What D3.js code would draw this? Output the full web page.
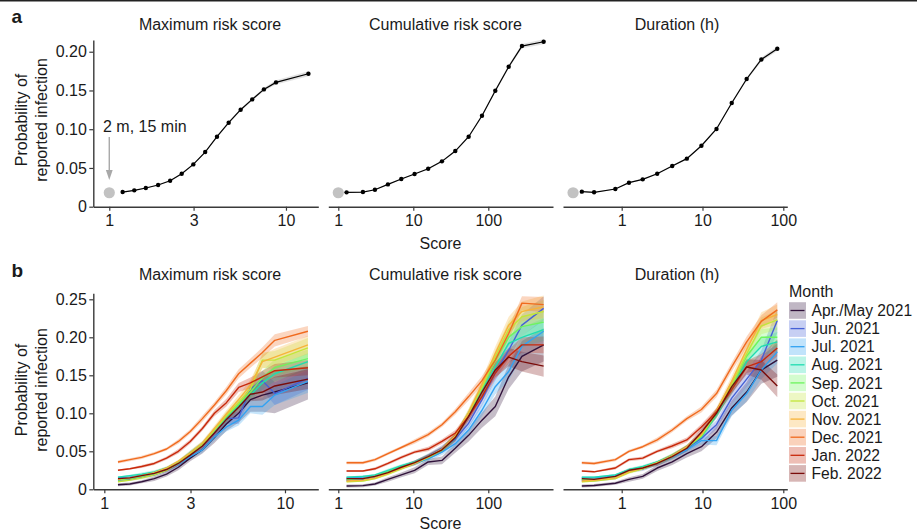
<!DOCTYPE html>
<html>
<head>
<meta charset="utf-8">
<script src="https://cdn.jsdelivr.net/npm/d3@7"></script>
<style>
  html, body { margin: 0; padding: 0; background: #fff; }
  svg { display: block; font-family: "Liberation Sans", Arial, Helvetica, sans-serif; }
</style>
</head>
<body>
<svg id="chart" width="917" height="532"></svg>
<script>
// ---------------- data ----------------
const panelTitles = ["Maximum risk score", "Cumulative risk score", "Duration (h)"];
const xTickValues = [[1, 3, 10], [1, 10, 100], [1, 10, 100]];
const yTicksTop = [0, 0.05, 0.10, 0.15, 0.20];
const yTickLabelsTop = ["0", "0.05", "0.10", "0.15", "0.20"];
const yTicksBottom = [0, 0.05, 0.10, 0.15, 0.20, 0.25];
const yTickLabelsBottom = ["0", "0.05", "0.10", "0.15", "0.20", "0.25"];

// bin centres (score or hours)
const maxX = [1.19, 1.385, 1.61, 1.89, 2.21, 2.57, 2.99, 3.49, 4.07, 4.74, 5.54, 6.44, 7.5, 8.78, 13.4];
const cumX = [1.29, 2.13, 3.08, 4.59, 6.92, 10.4, 15.8, 24.1, 36.3, 54.7, 82.4, 124, 187, 281, 547];
const durX = [0.321, 0.455, 0.834, 1.23, 1.82, 2.75, 4.22, 6.4, 9.7, 14.9, 23, 35.2, 53.5, 84.3];

// panel a: all months pooled
const maxP = [0.0189, 0.0211, 0.0241, 0.028, 0.0335, 0.0426, 0.0546, 0.0705, 0.0903, 0.1084, 0.1252, 0.1385, 0.1514, 0.1604, 0.1716];
const maxCI = [0.0005, 0.0005, 0.0005, 0.0006, 0.0007, 0.0008, 0.0009, 0.001, 0.0012, 0.0014, 0.0016, 0.0018, 0.0022, 0.0028, 0.0032];
const cumP = [0.0185, 0.0189, 0.0219, 0.0288, 0.0357, 0.0422, 0.049, 0.0585, 0.0718, 0.0903, 0.1174, 0.1497, 0.1806, 0.2073, 0.2129];
const cumCI = [0.0005, 0.0005, 0.0005, 0.0006, 0.0007, 0.0008, 0.0009, 0.001, 0.0012, 0.0014, 0.0017, 0.002, 0.0024, 0.0028, 0.0032];
const durP = [0.0194, 0.0186, 0.0228, 0.031, 0.0353, 0.0426, 0.0525, 0.062, 0.0787, 0.1003, 0.1338, 0.1648, 0.190, 0.2039];
const durCI = [0.0005, 0.0005, 0.0005, 0.0006, 0.0007, 0.0008, 0.0009, 0.001, 0.0012, 0.0014, 0.0017, 0.002, 0.0025, 0.003];

// reference exposure: 2 m, 15 min
const refScore = 1, refHours = 0.25, refP = 0.018;

// panel b: by month
const months = ["Apr./May 2021", "Jun. 2021", "Jul. 2021", "Aug. 2021", "Sep. 2021",
                "Oct. 2021", "Nov. 2021", "Dec. 2021", "Jan. 2022", "Feb. 2022"];
const monthColors = ["#30123b", "#4661d6", "#31a2f2", "#1fdcb0", "#6cf55e",
                     "#c2e63a", "#f7b33a", "#f06a1e", "#c8290b", "#7a0c0a"];

const maxMonthP = [
  [.006, .007, .010, .014, .020, .029, .041, .052, .068, .086, .100, .118, .124, .128, .140],
  [.012, .013, .016, .019, .025, .033, .045, .057, .074, .093, .094, .132, .143, .126, .146],
  [.015, .016, .018, .021, .026, .033, .043, .052, .069, .082, .091, .109, .109, .124, .142],
  [.016, .018, .020, .023, .028, .036, .048, .060, .077, .093, .110, .124, .140, .152, .168],
  [.012, .014, .017, .021, .027, .036, .047, .060, .078, .096, .112, .128, .147, .160, .172],
  [.010, .012, .015, .019, .025, .034, .046, .058, .078, .097, .114, .132, .170, .170, .186],
  [.013, .015, .018, .022, .028, .037, .048, .061, .080, .099, .118, .137, .168, .174, .190],
  [.036, .039, .042, .047, .053, .063, .076, .093, .111, .130, .152, .166, .180, .196, .208],
  [.025, .027, .030, .034, .041, .050, .063, .080, .100, .114, .134, .140, .148, .156, .160],
  [.014, .015, .018, .021, .026, .034, .045, .057, .074, .092, .108, .125, .128, .136, .145]
];
const maxMonthCI = [
  [.002, .002, .002, .003, .003, .004, .004, .005, .007, .009, .012, .016, .022, .028, .022],
  [.002, .002, .002, .002, .003, .003, .004, .004, .005, .007, .008, .010, .013, .015, .015],
  [.002, .002, .002, .002, .002, .003, .003, .004, .005, .006, .007, .009, .011, .013, .015],
  [.001, .001, .002, .002, .002, .002, .003, .003, .004, .005, .006, .007, .009, .010, .011],
  [.001, .001, .002, .002, .002, .002, .003, .003, .004, .005, .006, .007, .009, .011, .012],
  [.001, .001, .002, .002, .002, .002, .003, .003, .004, .005, .006, .008, .010, .012, .013],
  [.001, .001, .002, .002, .002, .002, .003, .003, .004, .005, .006, .007, .009, .011, .012],
  [.002, .002, .002, .002, .002, .003, .003, .004, .004, .005, .006, .006, .007, .008, .007],
  [.001, .001, .002, .002, .002, .003, .003, .003, .004, .005, .006, .007, .008, .009, .010],
  [.002, .002, .002, .002, .003, .003, .004, .004, .005, .006, .007, .009, .011, .012, .013]
];

const cumMonthP = [
  [.0044, .0048, .007, .013, .019, .025, .036, .038, .054, .071, .091, .109, .148, .175, .190],
  [.012, .013, .016, .022, .029, .035, .044, .054, .066, .087, .118, .153, .183, .216, .238],
  [.015, .016, .017, .023, .029, .034, .040, .049, .060, .078, .104, .135, .155, .188, .208],
  [.016, .017, .019, .025, .031, .036, .043, .052, .068, .098, .130, .161, .192, .200, .210],
  [.013, .014, .017, .023, .029, .035, .042, .052, .069, .100, .133, .170, .200, .214, .220],
  [.010, .011, .014, .020, .027, .034, .042, .052, .069, .100, .134, .174, .210, .227, .234],
  [.011, .012, .015, .021, .028, .034, .043, .053, .070, .101, .138, .179, .216, .234, .240],
  [.035, .035, .039, .047, .055, .063, .072, .085, .102, .122, .143, .170, .205, .245, .243],
  [.024, .024, .027, .034, .042, .049, .053, .063, .074, .096, .122, .153, .175, .190, .190],
  [.014, .014, .017, .022, .029, .035, .043, .052, .068, .096, .128, .157, .174, .168, .162]
];
const cumMonthCI = [
  [.002, .002, .002, .003, .003, .004, .004, .005, .006, .008, .010, .013, .016, .020, .022],
  [.002, .002, .002, .002, .003, .003, .003, .004, .005, .006, .008, .010, .012, .014, .016],
  [.002, .002, .002, .002, .002, .003, .003, .004, .005, .006, .008, .010, .012, .014, .016],
  [.001, .001, .001, .002, .002, .002, .003, .003, .004, .005, .007, .009, .011, .013, .015],
  [.001, .001, .001, .002, .002, .002, .003, .003, .004, .005, .007, .009, .011, .013, .015],
  [.001, .001, .001, .002, .002, .002, .003, .003, .004, .005, .007, .009, .011, .013, .015],
  [.001, .001, .002, .002, .002, .002, .003, .003, .004, .005, .007, .009, .011, .013, .015],
  [.002, .002, .002, .002, .002, .003, .003, .003, .004, .005, .006, .007, .008, .009, .010],
  [.001, .001, .002, .002, .002, .002, .003, .003, .004, .005, .006, .008, .009, .010, .011],
  [.002, .002, .002, .002, .002, .003, .003, .004, .005, .006, .008, .010, .012, .013, .014]
];

const durMonthP = [
  [.0044, .005, .008, .013, .017, .028, .036, .047, .056, .075, .107, .128, .157, .170],
  [.012, .012, .015, .024, .027, .034, .043, .054, .067, .085, .120, .145, .170, .222],
  [.015, .015, .018, .025, .028, .034, .042, .052, .064, .064, .104, .126, .157, .181],
  [.016, .016, .019, .026, .030, .036, .044, .055, .069, .098, .132, .168, .188, .194],
  [.013, .013, .016, .024, .028, .035, .044, .055, .070, .100, .135, .175, .200, .200],
  [.010, .011, .014, .022, .027, .034, .043, .055, .071, .101, .138, .178, .215, .223],
  [.011, .012, .015, .023, .028, .035, .044, .056, .072, .103, .142, .184, .222, .230],
  [.035, .034, .039, .050, .056, .065, .078, .093, .105, .126, .161, .194, .221, .236],
  [.024, .023, .028, .039, .041, .050, .057, .065, .082, .102, .131, .161, .168, .186],
  [.014, .013, .017, .025, .028, .034, .043, .054, .075, .100, .135, .161, .157, .136]
];
const durMonthCI = [
  [.002, .002, .002, .003, .003, .004, .004, .005, .006, .008, .010, .013, .018, .022],
  [.002, .002, .002, .002, .003, .003, .003, .004, .005, .006, .008, .010, .013, .016],
  [.002, .002, .002, .002, .002, .003, .003, .004, .005, .006, .008, .010, .012, .015],
  [.001, .001, .001, .002, .002, .002, .003, .003, .004, .005, .007, .009, .011, .013],
  [.001, .001, .001, .002, .002, .002, .003, .003, .004, .005, .007, .009, .011, .013],
  [.001, .001, .001, .002, .002, .002, .003, .003, .004, .005, .007, .009, .011, .013],
  [.001, .001, .001, .002, .002, .002, .003, .003, .004, .005, .007, .009, .011, .013],
  [.002, .002, .002, .002, .002, .003, .003, .003, .004, .005, .006, .007, .008, .010],
  [.001, .001, .002, .002, .002, .002, .003, .003, .004, .005, .006, .008, .010, .011],
  [.002, .002, .002, .002, .002, .003, .003, .004, .005, .006, .008, .010, .013, .015]
];

// ---------------- layout ----------------
const W = 917, H = 532;
const FS = 16;
const ink = "#1a1a1a";
const axisInk = "#3a3a3a";
const svg = d3.select("#chart");

// rule along the top edge
svg.append("rect").attr("x", 0).attr("y", 0).attr("width", W).attr("height", 1.5).attr("fill", "#222");

const colRange = [[93.3, 318.3], [328.3, 553], [563, 787.3]];
const topDomains = [[0.812, 15.24], [0.736, 729], [0.1877, 112.1]];
const botDomains = [[0.869, 15.29], [0.736, 729], [0.1877, 112.1]];

const yTop = d3.scaleLinear().domain([0, 0.215]).range([206.7, 40.1]);
const yBot = d3.scaleLinear().domain([0, 0.258]).range([489.3, 489.3 - 0.258 * 760]);

function styleAxis(g) {
  g.selectAll("path.domain").attr("stroke", axisInk).attr("stroke-width", 1.4);
  g.selectAll(".tick line").attr("stroke", axisInk).attr("stroke-width", 1.2);
  g.selectAll(".tick text").attr("fill", ink).style("font-size", FS + "px")
    .style("font-family", '"Liberation Sans", Arial, Helvetica, sans-serif');
}

function drawXAxis(x, yPos, ticks) {
  const g = svg.append("g").attr("transform", `translate(0,${yPos})`)
    .call(d3.axisBottom(x).tickValues(ticks).tickFormat(d3.format("d"))
      .tickSize(4).tickSizeOuter(0).tickPadding(4));
  styleAxis(g);
}

function drawYAxis(y, xPos, ticks, labels) {
  const g = svg.append("g").attr("transform", `translate(${xPos},0)`)
    .call(d3.axisLeft(y).tickValues(ticks).tickFormat((d, i) => labels[i])
      .tickSize(4).tickSizeOuter(0).tickPadding(2.5));
  styleAxis(g);
}

function yLabel(cx, cy) {
  const t = svg.append("text").attr("transform", `translate(${cx},${cy}) rotate(-90)`)
    .attr("text-anchor", "middle").attr("fill", ink).style("font-size", FS + "px");
  t.append("tspan").attr("x", 0).attr("y", 0).text("Probability of");
  t.append("tspan").attr("x", 0).attr("dy", 20).text("reported infection");
}

function text(x, y, s, opts = {}) {
  return svg.append("text").attr("x", x).attr("y", y).text(s)
    .attr("fill", ink).attr("text-anchor", opts.anchor || "start")
    .style("font-size", (opts.size || FS) + "px")
    .style("font-weight", opts.weight || "normal");
}

// panel letters
text(11.5, 23, "a", { weight: "bold", size: 19 });
text(11.5, 277, "b", { weight: "bold", size: 19 });

const titleCx = [210, 445.5, 677];
panelTitles.forEach((t, i) => {
  text(titleCx[i], 30, t, { anchor: "middle" });
  text(titleCx[i], 280, t, { anchor: "middle" });
});

text(440.5, 248.5, "Score", { anchor: "middle" });
text(440.5, 529, "Score", { anchor: "middle" });

yLabel(27, 120);
yLabel(27, 390);

// ---------------- panel a ----------------
const topXs = [maxX, cumX, durX];
const topPs = [maxP, cumP, durP];
const topCIs = [maxCI, cumCI, durCI];
const refX = [refScore, refScore, refHours];

topXs.forEach((xs, i) => {
  const x = d3.scaleLog().domain(topDomains[i]).range(colRange[i]);
  const rows = xs.map((v, k) => ({ x: v, p: topPs[i][k], ci: topCIs[i][k] }));

  svg.append("path").datum(rows)
    .attr("d", d3.area().x(d => x(d.x)).y0(d => yTop(d.p - d.ci)).y1(d => yTop(d.p + d.ci)))
    .attr("fill", "#bdbdbd").attr("fill-opacity", 0.45);

  svg.append("path").datum(rows)
    .attr("d", d3.line().x(d => x(d.x)).y(d => yTop(d.p)))
    .attr("fill", "none").attr("stroke", "#000").attr("stroke-width", 1.2);

  svg.append("g").selectAll("circle").data(rows).join("circle")
    .attr("cx", d => x(d.x)).attr("cy", d => yTop(d.p)).attr("r", 2.2).attr("fill", "#000");

  svg.append("circle").attr("cx", x(refX[i])).attr("cy", yTop(refP)).attr("r", 5.6).attr("fill", "#c2c2c2");

  drawXAxis(x, 206.7, xTickValues[i]);

  if (i === 0) {
    drawYAxis(yTop, colRange[0][0], yTicksTop, yTickLabelsTop);
    // annotation arrow pointing at the reference exposure
    const ax = x(refScore);
    text(103, 131.5, "2 m, 15 min");
    svg.append("line").attr("x1", ax).attr("x2", ax).attr("y1", 137).attr("y2", 172)
      .attr("stroke", "#a8a8a8").attr("stroke-width", 1.4);
    svg.append("path").attr("d", `M${ax - 3.4},170 L${ax + 3.4},170 L${ax},180 Z`).attr("fill", "#a8a8a8");
  }
});

// ---------------- panel b ----------------
const botXs = [maxX, cumX, durX];
const botPs = [maxMonthP, cumMonthP, durMonthP];
const botCIs = [maxMonthCI, cumMonthCI, durMonthCI];

botXs.forEach((xs, i) => {
  const x = d3.scaleLog().domain(botDomains[i]).range(colRange[i]);
  const gp = svg.append("g");
  months.forEach((m, j) => {
    const rows = xs.map((v, k) => ({ x: v, p: botPs[i][j][k], ci: botCIs[i][j][k] }));
    gp.append("path").datum(rows)
      .attr("d", d3.area().x(d => x(d.x)).y0(d => yBot(Math.max(0, d.p - d.ci))).y1(d => yBot(d.p + d.ci)))
      .attr("fill", monthColors[j]).attr("fill-opacity", 0.28);
  });
  months.forEach((m, j) => {
    const rows = xs.map((v, k) => ({ x: v, p: botPs[i][j][k] }));
    gp.append("path").datum(rows)
      .attr("d", d3.line().x(d => x(d.x)).y(d => yBot(d.p)))
      .attr("fill", "none").attr("stroke", monthColors[j]).attr("stroke-width", 1.4)
      .attr("stroke-linejoin", "round");
  });
  drawXAxis(x, 489.3, xTickValues[i]);
  if (i === 0) drawYAxis(yBot, colRange[0][0], yTicksBottom, yTickLabelsBottom);
});

// ---------------- legend ----------------
text(789, 297, "Month");
const lg = svg.append("g");
months.forEach((m, j) => {
  const yc = 310.5 + j * 18.1;
  lg.append("rect").attr("x", 789).attr("y", yc - 8.3).attr("width", 17).attr("height", 16.6)
    .attr("fill", monthColors[j]).attr("fill-opacity", 0.3);
  lg.append("line").attr("x1", 790.5).attr("x2", 804.5).attr("y1", yc).attr("y2", yc)
    .attr("stroke", monthColors[j]).attr("stroke-width", 1.3);
  lg.append("text").attr("x", 811.5).attr("y", yc + 5.6).text(m)
    .attr("fill", ink).style("font-size", "15.6px");
});
</script>
</body>
</html>
